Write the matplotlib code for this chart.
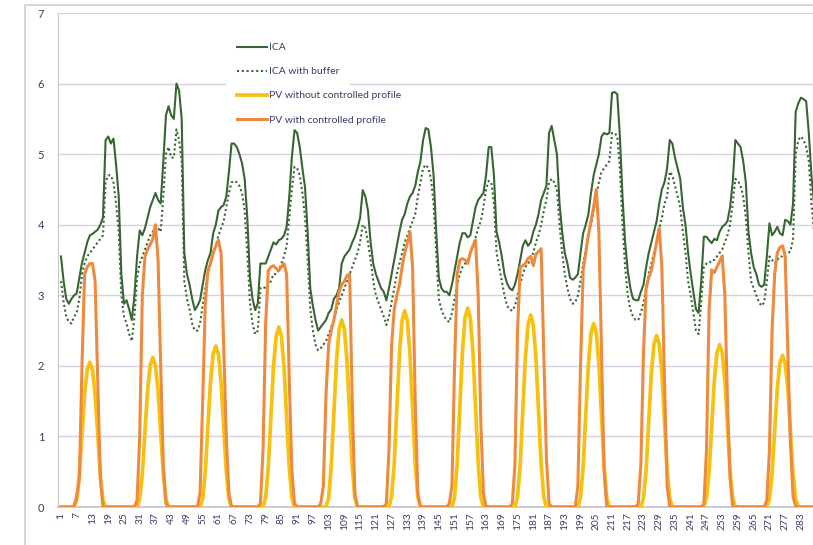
import matplotlib
matplotlib.use("Agg")
import matplotlib.pyplot as plt
from matplotlib.lines import Line2D
from matplotlib.patches import Rectangle

plt.rcParams['font.family'] = ['Lato', 'DejaVu Sans']

# ---------------- data (288 hourly points, 12 days) ----------------
ica = [
    3.55, 3.2, 2.95, 2.88, 2.95, 3.0, 3.03, 3.25, 3.46, 3.6, 3.75, 3.85, 3.87, 3.9, 3.93, 4.0, 4.1, 5.2, 5.25, 5.15, 5.22, 4.85, 4.4, 3.3,
    2.88, 2.93, 2.8, 2.65, 3.0, 3.55, 3.92, 3.85, 3.95, 4.1, 4.25, 4.35, 4.45, 4.35, 4.3, 4.9, 5.55, 5.68, 5.55, 5.5, 6.0, 5.9, 5.5, 3.6,
    3.3, 3.15, 2.95, 2.79, 2.85, 2.93, 3.15, 3.36, 3.5, 3.6, 3.88, 4.0, 4.2, 4.25, 4.28, 4.4, 4.75, 5.15, 5.15, 5.1, 5.0, 4.87, 4.65, 4.1,
    3.26, 2.95, 2.79, 2.88, 3.45, 3.45, 3.45, 3.55, 3.65, 3.75, 3.72, 3.78, 3.8, 3.85, 3.97, 4.4, 4.96, 5.34, 5.3, 5.1, 4.8, 4.53, 3.9, 3.1,
    2.85, 2.65, 2.5, 2.55, 2.6, 2.65, 2.75, 2.8, 2.95, 3.0, 3.1, 3.45, 3.55, 3.6, 3.65, 3.75, 3.83, 3.95, 4.1, 4.49, 4.4, 4.2, 3.75, 3.45,
    3.3, 3.2, 3.1, 3.05, 2.93, 3.1, 3.3, 3.5, 3.7, 3.9, 4.07, 4.15, 4.3, 4.4, 4.45, 4.55, 4.75, 4.9, 5.2, 5.37, 5.35, 5.1, 4.7, 3.9,
    3.25, 3.1, 3.05, 3.05, 3.0, 3.15, 3.35, 3.55, 3.75, 3.88, 3.88, 3.82, 3.85, 4.05, 4.25, 4.35, 4.4, 4.45, 4.7, 5.1, 5.1, 4.7, 3.9, 3.75,
    3.55, 3.3, 3.17, 3.1, 3.07, 3.15, 3.3, 3.5, 3.7, 3.78, 3.7, 3.75, 3.9, 4.0, 4.15, 4.35, 4.45, 4.55, 5.3, 5.4, 5.2, 5.0, 4.3, 3.9,
    3.6, 3.45, 3.25, 3.22, 3.25, 3.3, 3.6, 3.88, 4.0, 4.15, 4.45, 4.7, 4.85, 5.0, 5.25, 5.3, 5.28, 5.3, 5.87, 5.88, 5.85, 5.25, 4.4, 3.75,
    3.35, 3.1, 2.95, 2.93, 2.93, 3.05, 3.15, 3.4, 3.6, 3.75, 3.9, 4.05, 4.3, 4.5, 4.6, 4.8, 5.2, 5.15, 4.95, 4.8, 4.65, 4.25, 4.0, 3.6,
    3.3, 3.05, 2.8, 2.75, 3.2, 3.83, 3.83, 3.78, 3.74, 3.8, 3.78, 3.9, 3.97, 4.0, 4.05, 4.25, 4.6, 5.2, 5.15, 5.1, 4.9, 4.6, 3.9, 3.6,
    3.4, 3.3, 3.15, 3.12, 3.15, 3.55, 4.02, 3.85, 3.9, 3.97, 3.88, 3.85, 4.07, 4.05, 4.0, 4.3, 5.6, 5.72, 5.8, 5.78, 5.75, 5.3, 4.7, 4.3,
]

ica_buffer = [
    3.2, 2.9, 2.7, 2.62, 2.6, 2.7, 2.75, 2.95, 3.3, 3.45, 3.55, 3.6, 3.65, 3.7, 3.75, 3.8, 3.85, 4.6, 4.7, 4.7, 4.6, 4.3, 3.9, 3.0,
    2.7, 2.6, 2.45, 2.35, 2.7, 3.25, 3.45, 3.55, 3.65, 3.75, 3.85, 3.9, 3.97, 3.95, 3.9, 4.4, 5.0, 5.1, 4.95, 4.95, 5.35, 5.2, 4.9, 3.2,
    2.95, 2.8, 2.6, 2.5, 2.5, 2.6, 2.85, 3.1, 3.3, 3.45, 3.6, 3.7, 3.85, 3.95, 4.05, 4.25, 4.45, 4.6, 4.62, 4.6, 4.55, 4.45, 4.2, 3.6,
    2.9, 2.6, 2.45, 2.5, 3.1, 3.12, 3.1, 3.15, 3.2, 3.3, 3.3, 3.35, 3.45, 3.55, 3.7, 4.1, 4.5, 4.82, 4.8, 4.7, 4.45, 4.1, 3.5, 2.8,
    2.5, 2.3, 2.22, 2.25, 2.3, 2.35, 2.45, 2.55, 2.65, 2.8, 2.9, 3.0, 3.1, 3.2, 3.3, 3.4, 3.5, 3.6, 3.75, 4.0, 3.95, 3.75, 3.5, 3.2,
    3.0, 2.9, 2.8, 2.7, 2.58, 2.7, 2.9, 3.1, 3.3, 3.45, 3.6, 3.75, 3.85, 3.95, 4.05, 4.15, 4.4, 4.6, 4.8, 4.85, 4.8, 4.65, 4.3, 3.6,
    2.95, 2.8, 2.7, 2.65, 2.62, 2.75, 2.95, 3.15, 3.3, 3.4, 3.45, 3.5, 3.6, 3.7, 3.82, 3.95, 4.05, 4.25, 4.5, 4.62, 4.6, 4.3, 3.6, 3.4,
    3.2, 3.0, 2.85, 2.8, 2.78, 2.85, 3.0, 3.15, 3.3, 3.4, 3.45, 3.5, 3.6, 3.75, 3.85, 4.0, 4.2, 4.35, 4.6, 4.65, 4.6, 4.5, 4.0, 3.6,
    3.3, 3.1, 2.95, 2.88, 2.9, 3.0, 3.2, 3.45, 3.65, 3.85, 4.0, 4.2, 4.4, 4.6, 4.75, 4.8, 4.85, 4.9, 5.3, 5.3, 5.25, 4.8, 4.0, 3.4,
    3.0, 2.8, 2.7, 2.65, 2.65, 2.75, 2.9, 3.1, 3.3, 3.45, 3.6, 3.75, 3.95, 4.1, 4.3, 4.4, 4.75, 4.7, 4.55, 4.4, 4.25, 3.9, 3.6, 3.2,
    3.0, 2.75, 2.5, 2.45, 2.9, 3.4, 3.45, 3.45, 3.5, 3.5, 3.55, 3.6, 3.65, 3.75, 3.85, 4.0, 4.3, 4.65, 4.62, 4.55, 4.4, 4.1, 3.6, 3.2,
    3.1, 3.0, 2.9, 2.85, 2.9, 3.2, 3.55, 3.5, 3.45, 3.5, 3.55, 3.55, 3.6, 3.6, 3.62, 3.8, 5.0, 5.2, 5.25, 5.2, 5.1, 4.9, 4.3, 3.9,
]

pv_uncontrolled = [
    0, 0, 0, 0, 0, 0, 0.1, 0.45, 1.03, 1.6, 1.95, 2.05, 1.95, 1.6, 1.03, 0.45, 0.1, 0, 0, 0, 0, 0, 0, 0,
    0, 0, 0, 0, 0, 0, 0.11, 0.47, 1.06, 1.65, 2.01, 2.12, 2.01, 1.65, 1.06, 0.47, 0.11, 0, 0, 0, 0, 0, 0, 0,
    0, 0, 0, 0, 0, 0, 0.11, 0.5, 1.14, 1.78, 2.17, 2.28, 2.17, 1.78, 1.14, 0.5, 0.11, 0, 0, 0, 0, 0, 0, 0,
    0, 0, 0, 0, 0, 0, 0.13, 0.56, 1.28, 1.99, 2.42, 2.55, 2.42, 1.99, 1.28, 0.56, 0.13, 0, 0, 0, 0, 0, 0, 0,
    0, 0, 0, 0, 0, 0, 0.13, 0.58, 1.33, 2.07, 2.52, 2.65, 2.52, 2.07, 1.33, 0.58, 0.13, 0, 0, 0, 0, 0, 0, 0,
    0, 0, 0, 0, 0, 0, 0.14, 0.61, 1.39, 2.17, 2.64, 2.78, 2.64, 2.17, 1.39, 0.61, 0.14, 0, 0, 0, 0, 0, 0, 0,
    0, 0, 0, 0, 0, 0, 0.14, 0.62, 1.41, 2.2, 2.68, 2.82, 2.68, 2.2, 1.41, 0.62, 0.14, 0, 0, 0, 0, 0, 0, 0,
    0, 0, 0, 0, 0, 0, 0.14, 0.6, 1.36, 2.12, 2.58, 2.72, 2.58, 2.12, 1.36, 0.6, 0.14, 0, 0, 0, 0, 0, 0, 0,
    0, 0, 0, 0, 0, 0, 0.13, 0.57, 1.3, 2.03, 2.47, 2.6, 2.47, 2.03, 1.3, 0.57, 0.13, 0, 0, 0, 0, 0, 0, 0,
    0, 0, 0, 0, 0, 0, 0.12, 0.53, 1.22, 1.9, 2.31, 2.43, 2.31, 1.9, 1.22, 0.53, 0.12, 0, 0, 0, 0, 0, 0, 0,
    0, 0, 0, 0, 0, 0, 0.12, 0.51, 1.15, 1.79, 2.19, 2.3, 2.19, 1.79, 1.15, 0.51, 0.12, 0, 0, 0, 0, 0, 0, 0,
    0, 0, 0, 0, 0, 0, 0.11, 0.47, 1.08, 1.68, 2.04, 2.15, 2.04, 1.68, 1.08, 0.47, 0.11, 0, 0, 0, 0, 0, 0, 0,
]

pv_controlled = [
    0, 0, 0, 0, 0, 0.02, 0.15, 0.4, 2.0, 3.3, 3.4, 3.45, 3.45, 3.2, 1.8, 0.4, 0, 0, 0, 0, 0, 0, 0, 0,
    0, 0, 0, 0, 0, 0.1, 1.0, 3.0, 3.55, 3.65, 3.72, 3.8, 4.0, 3.5, 2.0, 0.6, 0.05, 0, 0, 0, 0, 0, 0, 0,
    0, 0, 0, 0, 0, 0.2, 1.5, 2.9, 3.35, 3.45, 3.6, 3.7, 3.78, 3.6, 2.3, 1.0, 0.2, 0, 0, 0, 0, 0, 0, 0,
    0, 0, 0, 0, 0.05, 0.8, 2.6, 3.35, 3.4, 3.42, 3.38, 3.35, 3.4, 3.45, 3.3, 1.8, 0.5, 0.05, 0, 0, 0, 0, 0, 0,
    0, 0, 0, 0.05, 0.3, 1.6, 2.3, 2.5, 2.65, 2.85, 3.05, 3.15, 3.2, 3.28, 3.3, 1.5, 0.2, 0, 0, 0, 0, 0, 0, 0,
    0, 0, 0, 0, 0.05, 0.8, 2.3, 2.8, 3.0, 3.15, 3.4, 3.6, 3.75, 3.9, 3.4, 1.5, 0.2, 0, 0, 0, 0, 0, 0, 0,
    0, 0, 0, 0, 0.05, 0.3, 2.0, 3.3, 3.5, 3.52, 3.5, 3.45, 3.6, 3.7, 3.78, 3.0, 1.2, 0.2, 0, 0, 0, 0, 0, 0,
    0, 0, 0, 0, 0.05, 0.6, 2.5, 3.4, 3.42, 3.45, 3.52, 3.55, 3.42, 3.58, 3.62, 3.66, 2.2, 0.7, 0.05, 0, 0, 0, 0, 0,
    0, 0, 0, 0, 0, 0.3, 2.0, 3.35, 3.6, 3.85, 4.05, 4.25, 4.5, 3.9, 2.2, 0.5, 0, 0, 0, 0, 0, 0, 0, 0,
    0, 0, 0, 0, 0.05, 0.6, 2.2, 3.1, 3.25, 3.35, 3.55, 3.75, 3.95, 3.4, 1.8, 0.3, 0, 0, 0, 0, 0, 0, 0, 0,
    0, 0, 0, 0, 0, 0.05, 0.8, 2.8, 3.36, 3.32, 3.4, 3.48, 3.56, 3.0, 1.5, 0.4, 0, 0, 0, 0, 0, 0, 0, 0,
    0, 0, 0, 0, 0, 0.1, 0.8, 2.5, 3.3, 3.6, 3.68, 3.7, 3.55, 2.2, 0.9, 0.15, 0, 0, 0, 0, 0, 0, 0, 0,
]

hours = list(range(1, len(ica) + 1))

x_ticks = [1, 7, 13, 19, 25, 31, 37, 43, 49, 55, 61, 67, 73, 79, 85, 91, 97, 103, 109, 115,
           121, 127, 133, 139, 145, 151, 157, 163, 169, 175, 181, 187, 193, 199, 205, 211,
           217, 223, 229, 235, 241, 247, 253, 259, 265, 271, 277, 283]
x_tick_labels = [str(t) for t in x_ticks]
y_ticks = [0, 1, 2, 3, 4, 5, 6, 7]

series_names = ["ICA", "ICA with buffer", "PV without controlled profile", "PV with controlled profile"]

# ---------------- styling ----------------
c_green = "#386632"
c_yellow = "#f5c211"
c_orange = "#ee8a3f"
c_grid = "#d2d2e2"
c_text = "#363f66"

W, H = 813, 545
fig = plt.figure(figsize=(W / 100, H / 100), dpi=100)

# outer chart frame (cropped at right/bottom)
fig.patches.append(Rectangle((25 / W, -0.05), 1.2, (H - 5) / H + 0.05,
                             transform=fig.transFigure, fill=False,
                             edgecolor="#cfcfcf", linewidth=1.2, zorder=0))

ax = fig.add_axes([58 / W, (H - 507) / H, (W - 58) / W, (507 - 13) / H])

ax.plot(hours, ica, color=c_green, lw=1.5, solid_joinstyle="round", zorder=3)
ax.plot(hours, ica_buffer, color=c_green, lw=1.5, linestyle=(0, (1, 1.3)), zorder=3)
ax.plot(hours, pv_uncontrolled, color=c_yellow, lw=2.7, solid_joinstyle="round", zorder=4)
ax.plot(hours, pv_controlled, color=c_orange, lw=2.2, solid_joinstyle="round", zorder=5)

ax.set_xlim(-0.14, 287.6)
ax.set_ylim(0, 7)
ax.set_yticks(y_ticks)
ax.set_yticklabels([str(v) for v in y_ticks])
ax.set_xticks(x_ticks)
ax.set_xticklabels(x_tick_labels, rotation=90)

ax.grid(axis="y", color=c_grid, lw=1.0, zorder=0)
ax.set_axisbelow(True)
for s in ["top", "right"]:
    ax.spines[s].set_visible(False)
ax.spines["left"].set_color("#c8c8c8")
ax.spines["bottom"].set_color("#c0c0d6")
ax.spines["bottom"].set_linewidth(1.2)

ax.tick_params(axis="y", length=0, pad=10, labelsize=8, labelcolor=c_text)
ax.tick_params(axis="x", length=0, pad=4, labelsize=7.3, labelcolor=c_text)

# white legend backing (hides the gridline behind the legend block)
ax.add_patch(Rectangle((226 / W, (H - 130) / H), (350 - 226) / W, (130 - 35) / H,
                       transform=fig.transFigure, facecolor="white", edgecolor="none", zorder=1))

handles = [
    Line2D([], [], color=c_green, lw=1.5),
    Line2D([], [], color=c_green, lw=1.5, linestyle=(0, (1, 1.3))),
    Line2D([], [], color=c_yellow, lw=2.7),
    Line2D([], [], color=c_orange, lw=2.2),
]
leg = ax.legend(handles, series_names, loc="upper left",
                bbox_to_anchor=(237 / W, 1 - 43 / H), bbox_transform=fig.transFigure,
                frameon=False, fontsize=7.5, handlelength=2.9, handletextpad=0.2,
                labelspacing=1.42, borderpad=0.0, borderaxespad=0)
for t in leg.get_texts():
    t.set_color(c_text)

fig.savefig("out.png", dpi=100)
